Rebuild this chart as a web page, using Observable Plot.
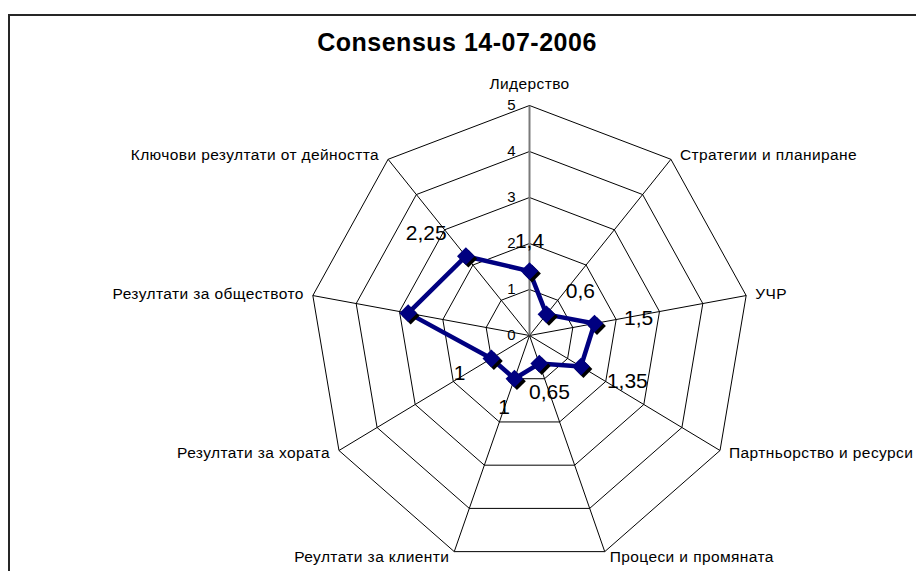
<!DOCTYPE html>
<html>
<head>
<meta charset="utf-8">
<script src="https://cdn.jsdelivr.net/npm/d3@7"></script>
<script src="https://cdn.jsdelivr.net/npm/@observablehq/plot@0.6"></script>
<style>
  html, body { margin: 0; padding: 0; background: #fff; overflow: hidden; width: 916px; height: 571px; }
  #frame { position: absolute; left: 8px; top: 14px; width: 1000px; height: 1000px;
           border-left: 2px solid #262626; border-top: 2px solid #262626; }
  #title { position: absolute; left: 0; top: 30px; width: 914px; text-align: center;
           font: bold 25px "Liberation Sans", Arial, sans-serif; line-height: 25px; letter-spacing: 0.5px; color: #000; }
  #chart { position: absolute; left: 0; top: 60px; }
  .cat text { letter-spacing: 0.4px; }
</style>
</head>
<body>
<div id="frame"></div>
<div id="title">Consensus 14-07-2006</div>
<div id="chart"></div>
<script>
// ---- data ----
const categories = [
  "Лидерство",
  "Стратегии и планиране",
  "УЧР",
  "Партньорство и ресурси",
  "Процеси и промяната",
  "Реултати за клиенти",
  "Резултати за хората",
  "Резултати за обществото",
  "Ключови резултати от дейността"
];
const values = [1.4, 0.6, 1.5, 1.35, 0.65, 1, 1, 2.8, 2.25];
const dataLabels = ["1,4", "0,6", "1,5", "1,35", "0,65", "1", "1", "", "2,25"];
const tickValues = [0, 1, 2, 3, 4, 5];

// ---- layout ----
const W = 916, H = 511;
const cx = 529, cy = 275;      // centre in svg pixels
const pxX = 44, pxY = 46;      // pixels per unit (chart is slightly squeezed horizontally)
const maxV = 5;
const n = categories.length;
const ang = i => i * 2 * Math.PI / n;
const pos = (i, v) => ({x: v * Math.sin(ang(i)), y: v * Math.cos(ang(i))});

// rings
const rings = [];
for (const lv of tickValues.filter(t => t > 0)) {
  for (let i = 0; i <= n; i++) rings.push({level: lv, ...pos(i % n, lv)});
}
// spokes
const spokes = categories.map((c, i) => ({i, ...pos(i, maxV)}));

// series
const series = values.map((v, i) => ({i, v, label: dataLabels[i], ...pos(i, v)}));
const seriesClosed = [...series, series[0]];

// category labels
const catData = categories.map((c, i) => {
  const s = Math.sin(ang(i)), co = Math.cos(ang(i));
  const p = pos(i, maxV);
  let anchor = "middle", dx = 0, dy = -21;
  if (i !== 0) {
    anchor = s > 0 ? "start" : "end";
    dx = (s > 0 ? 1 : -1) * (Math.abs(s) > 0.5 ? 9 : 5);
    dy = -6 * co;
  }
  return {c, x: p.x, y: p.y, anchor, dx, dy};
});

// data label placement (radial offset)
const K = 30;
const lblData = series.filter(d => d.label !== "").map(d => {
  const s = Math.sin(ang(d.i)), co = Math.cos(ang(d.i));
  const anchor = Math.abs(s) < 0.5 ? "middle" : (s > 0 ? "start" : "end");
  return {...d, anchor, ox: K * s, oy: -K * co};
});

const xDom = [-cx / pxX, (W - cx) / pxX];
const yDom = [-(H - cy) / pxY, cy / pxY];

const marks = [
  Plot.line(rings, {x: "x", y: "y", z: "level", stroke: "#000", strokeWidth: 1}),
  Plot.link(spokes.filter(d => d.i !== 0), {x1: 0, y1: 0, x2: "x", y2: "y", stroke: "#000", strokeWidth: 1}),
  Plot.link(spokes.filter(d => d.i === 0), {x1: 0, y1: 0, x2: "x", y2: "y", stroke: "#7a7a7a", strokeWidth: 2}),
  Plot.text(tickValues, {x: 0, y: d => d, text: d => String(d), textAnchor: "end", dx: -14, fontSize: 15, fill: "#000"}),
  ...catData.map(d => Plot.text([d], {
    x: "x", y: "y", text: "c", textAnchor: d.anchor, dx: d.dx, dy: d.dy,
    fontSize: 15.5, fill: "#000", className: "cat"
  })),
  Plot.line(seriesClosed, {x: "x", y: "y", stroke: "#000080", strokeWidth: 4.5, strokeLinejoin: "round"}),
  Plot.dot(series, {x: "x", y: "y", symbol: "diamond2", r: 8, fill: "#000", stroke: "none", dx: 2.5, dy: 2.5}),
  Plot.dot(series, {x: "x", y: "y", symbol: "diamond2", r: 8, fill: "#000080", stroke: "none"}),
  ...lblData.map(d => Plot.text([d], {x: "x", y: "y", text: "label", textAnchor: d.anchor, dx: d.ox, dy: d.oy, fontSize: 21, fill: "#000"}))
];

const chart = Plot.plot({
  width: W, height: H,
  margin: 0,
  x: {domain: xDom, axis: null},
  y: {domain: yDom, axis: null},
  style: {fontFamily: "'Liberation Sans', Arial, sans-serif", background: "transparent", overflow: "visible"},
  marks
});
document.getElementById("chart").appendChild(chart);
</script>
</body>
</html>
